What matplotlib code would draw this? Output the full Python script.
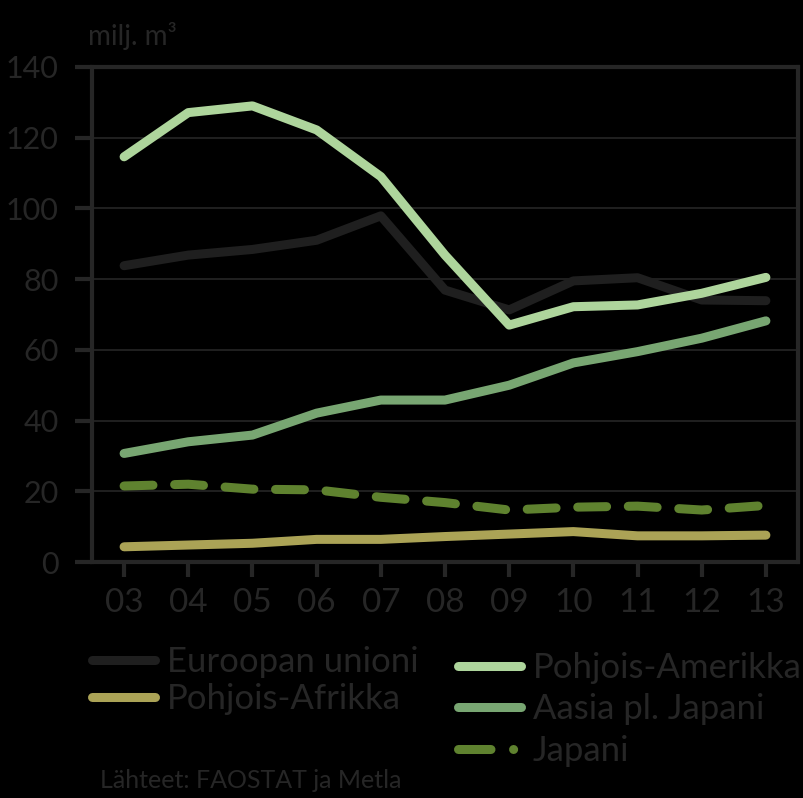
import numpy as np
import matplotlib
matplotlib.use("Agg")
import matplotlib.pyplot as plt
from matplotlib.lines import Line2D

# vuodet 2003-2013, milj. m3
years = ['03', '04', '05', '06', '07', '08', '09', '10', '11', '12', '13']
eu = [83.8, 86.8, 88.4, 91.0, 97.9, 76.9, 71.3, 79.5, 80.4, 74.1, 73.9]
n_africa = [4.3, 4.8, 5.3, 6.4, 6.4, 7.2, 7.9, 8.6, 7.4, 7.4, 7.6]
n_america = [114.6, 127.1, 129.0, 122.2, 109.0, 86.8, 67.0, 72.2, 72.7, 76.0, 80.5]
asia = [30.7, 34.0, 35.9, 42.1, 45.8, 45.8, 50.0, 56.3, 59.5, 63.3, 68.2]
japan = [21.5, 22.0, 20.6, 20.4, 18.3, 16.8, 14.7, 15.5, 15.8, 14.7, 16.0]

series = [
    ('Euroopan unioni', eu, '#1f1f1f', '-'),
    ('Pohjois-Afrikka', n_africa, '#aba356', '-'),
    ('Pohjois-Amerikka', n_america, '#aed59c', '-'),
    ('Aasia pl. Japani', asia, '#78a672', '-'),
    ('Japani', japan, '#5f822f', '--'),
]

TXT = '#262626'
plt.rcParams['font.family'] = ['Lato', 'DejaVu Sans']

fig = plt.figure(figsize=(8.04, 7.98), dpi=100, facecolor='black')
ax = fig.add_axes([92 / 804, 1 - 562 / 798, (798 - 92) / 804, (562 - 67) / 798])
ax.set_facecolor('black')

x = np.arange(len(years))
lw = 6.5
handles = {}
for name, vals, col, ls in series:
    ln, = ax.plot(x, vals, color=col, lw=lw, solid_capstyle='round',
                  solid_joinstyle='round', dash_capstyle='round')
    if ls == '--':
        ln.set_dashes([3.2, 2.4])
    handles[name] = ln

ax.set_xlim(-0.5, 10.5)
ax.set_ylim(0, 140)
ax.set_yticks(range(0, 141, 20))
ax.set_xticks(x)
ax.set_xticklabels(years)
for s in ax.spines.values():
    s.set_color(TXT)
    s.set_linewidth(3)
ax.grid(axis='y', color=TXT, lw=1.2)
ax.set_axisbelow(True)
ax.tick_params(axis='y', length=12, width=3, color=TXT, labelcolor=TXT,
               labelsize=22, pad=12)
ax.tick_params(axis='x', length=11, width=3, color=TXT, labelcolor=TXT,
               labelsize=24, pad=8)

fig.text(88 / 804, 1 - 36 / 798, 'milj. m³', color=TXT, fontsize=20,
         va='center', ha='left')

kw = dict(frameon=False, fontsize=25, handlelength=1.8, handletextpad=0.35,
          labelcolor=TXT, borderaxespad=0, borderpad=0)
leg1 = fig.legend([handles['Euroopan unioni'], handles['Pohjois-Afrikka']],
                  ['Euroopan unioni', 'Pohjois-Afrikka'], loc='upper left',
                  bbox_to_anchor=(92 / 804, 1 - 646 / 798), labelspacing=0.15, **kw)
leg2 = fig.legend([handles['Pohjois-Amerikka'], handles['Aasia pl. Japani'],
                   Line2D([], [], color='#5f822f', lw=lw, dashes=[3.6, 2.5, 0.01, 10],
                          dash_capstyle='round')],
                  ['Pohjois-Amerikka', 'Aasia pl. Japani', 'Japani'], loc='upper left',
                  bbox_to_anchor=(458 / 804, 1 - 652 / 798), labelspacing=0.27, **kw)

fig.text(100 / 804, 1 - 781 / 798, 'Lähteet: FAOSTAT ja Metla', color=TXT,
         fontsize=18, va='center', ha='left')

fig.savefig('out.png', dpi=100, facecolor='black')
